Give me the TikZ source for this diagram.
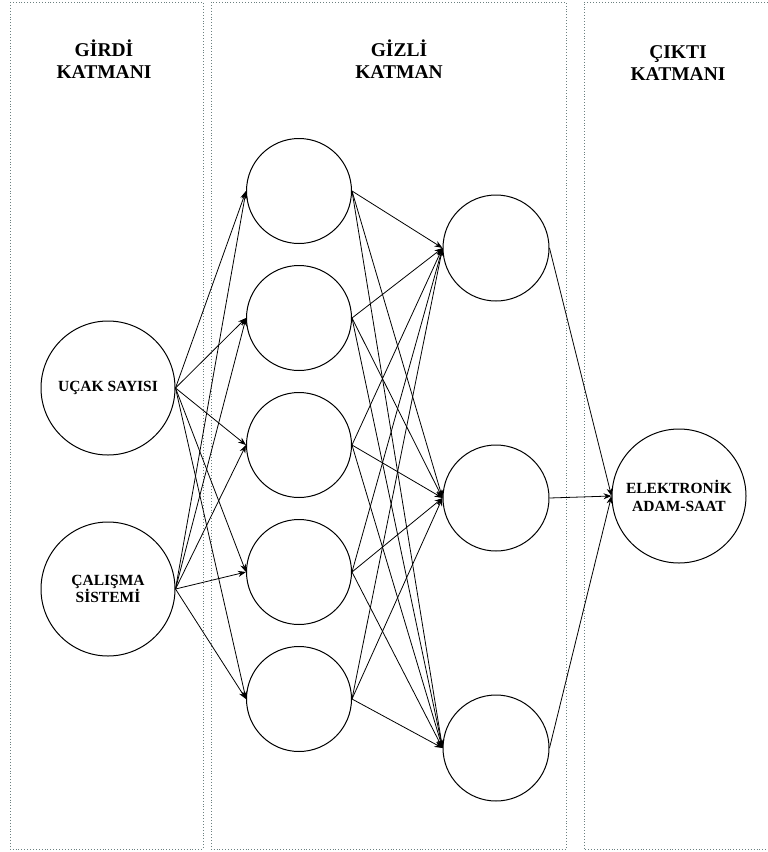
\documentclass[tikz,border=0pt]{standalone}
\usepackage{fontspec}
\setmainfont{Liberation Serif}
\usetikzlibrary{arrows.meta}
\begin{document}
\begin{tikzpicture}[x=1pt,y=-1pt,
  bignode/.style={circle,draw=black,line width=1pt,minimum size=134pt,inner sep=0pt,align=center,font=\fontsize{15.5}{17.5}\selectfont\bfseries},
  smallnode/.style={circle,draw=black,line width=1pt,minimum size=105pt,inner sep=0pt},
  conn/.style={-{Stealth[length=8pt,width=6pt]},line width=0.8pt},
  panel/.style={draw=gray!85!teal,dotted,line width=0.9pt},
  title/.style={align=center,font=\fontsize{19.5}{22}\selectfont\bfseries}]
\useasboundingbox (0,0) rectangle (768,852);
% panels
\draw[panel] (10,2) rectangle (203,849);
\draw[panel] (211,2) rectangle (566,849);
\draw[panel] (768,2) -- (584,2) -- (584,849) -- (768,849);
% titles
\node[title] (t1) at (104,59) {GİRDİ\\KATMANI};
\node[title] (t2) at (399,59) {GİZLİ\\KATMAN};
\node[title] (t3) at (678,63) {ÇIKTI\\KATMANI};
% input layer
\node[bignode] (i1) at (108,388) {UÇAK SAYISI};
\node[bignode] (i2) at (108,589) {ÇALIŞMA\\SİSTEMİ};
% hidden layer 1
\foreach \k/\y in {1/191,2/318,3/445,4/572,5/699}
  \node[smallnode] (h\k) at (299,\y) {};
% hidden layer 2
\foreach \k/\y in {1/248,2/498,3/748}
  \node[smallnode,minimum size=106pt] (g\k) at (496,\y) {};
% output
\node[bignode] (o) at (679,496) {ELEKTRONİK\\ADAM-SAAT};
% connections
\foreach \i in {1,2}
  \foreach \k in {1,...,5}
    \draw[conn] (i\i.east) -- (h\k.west);
\foreach \k in {1,...,5}
  \foreach \j in {1,2,3}
    \draw[conn] (h\k.east) -- (g\j.west);
\foreach \j in {1,2,3}
  \draw[conn] (g\j.east) -- (o.west);
\end{tikzpicture}
\end{document}
